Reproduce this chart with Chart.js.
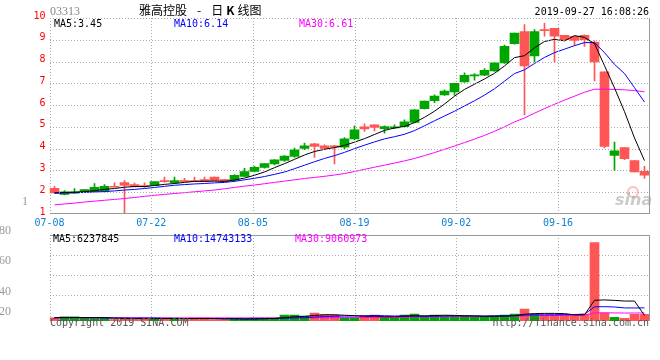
<!DOCTYPE html>
<html><head><meta charset="utf-8">
<script src="https://cdn.jsdelivr.net/npm/chart.js@4.4.1/dist/chart.umd.min.js"></script>
<style>
html,body{margin:0;padding:0;background:#fff;width:660px;height:360px;overflow:hidden;}
#wrap{position:relative;width:660px;height:360px;overflow:hidden;}
.cv{position:absolute;left:0;top:0;width:660px;height:360px;}
.t{position:absolute;white-space:pre;font-family:"DejaVu Sans Mono",monospace;font-size:10px;line-height:12px;color:#000;}
.g{position:absolute;white-space:pre;font-family:"Liberation Serif",serif;color:#999;line-height:14px;}
.cjk{font-family:"Noto Sans CJK SC",sans-serif;font-size:12px;line-height:14px;}
</style></head><body>
<div id="wrap">
<div class="cv"><canvas id="vol" width="660" height="360"></canvas></div>
<div class="cv" id="priceBox"><canvas id="price" width="660" height="360"></canvas></div>

<div class="g" style="left:50px;top:4px;font-size:12px;color:#888;">03313</div>
<div class="t cjk" style="left:139px;top:3px;">雅高控股<span style="padding-left:10px;">-</span><span style="padding-left:10px;">日</span><b style="padding:0 3px;">K</b>线图</div>
<div class="t" style="right:11px;top:6px;">2019-09-27 16:08:26</div>

<div class="t" style="left:54px;top:18px;color:#000;">MA5:3.45</div>
<div class="t" style="left:174px;top:18px;color:#0000ff;">MA10:6.14</div>
<div class="t" style="left:299px;top:18px;color:#ff00ff;">MA30:6.61</div>

<div class="t" style="left:53px;top:233px;color:#000;">MA5:6237845</div>
<div class="t" style="left:174px;top:233px;color:#0000ff;">MA10:14743133</div>
<div class="t" style="left:295px;top:233px;color:#ff00ff;">MA30:9060973</div>

<div class="g" style="left:22px;top:194px;font-size:12px;">1</div>
<div class="g" style="left:-10px;width:21px;text-align:right;top:223px;font-size:12px;">80</div>
<div class="g" style="left:-10px;width:21px;text-align:right;top:253px;font-size:12px;">60</div>
<div class="g" style="left:-10px;width:21px;text-align:right;top:284px;font-size:12px;">40</div>
<div class="g" style="left:-10px;width:21px;text-align:right;top:304px;font-size:12px;">20</div>

<div style="position:absolute;left:627px;top:186px;width:8px;height:8px;border:2px solid rgba(255,110,110,0.45);border-radius:50%;"></div>
<div style="position:absolute;left:615px;top:191px;font-family:'DejaVu Sans',sans-serif;font-weight:bold;font-style:italic;font-size:16px;line-height:18px;color:rgba(160,160,160,0.55);">sina</div>

<div class="t" style="left:50px;top:317px;color:#555;">Copyright 2019 SINA.COM</div>
<div class="t" style="right:11px;top:317px;color:#555;">http://finance.sina.com.cn</div>
</div>

<script>
// ---------- data ----------
const dates = [
 '07-08','07-09','07-10','07-11','07-12','07-15','07-16','07-17','07-18','07-19',
 '07-22','07-23','07-24','07-25','07-26','07-29','07-30','07-31','08-01','08-02',
 '08-05','08-06','08-07','08-08','08-09','08-12','08-13','08-14','08-15','08-16',
 '08-19','08-20','08-21','08-22','08-23','08-26','08-27','08-28','08-29','08-30',
 '09-02','09-03','09-04','09-05','09-06','09-09','09-10','09-11','09-12','09-13',
 '09-16','09-17','09-18','09-19','09-20','09-23','09-24','09-25','09-26','09-27'];
const tickIndex = [0,10,20,30,40,50];
const priceTicks = [1,2,3,4,5,6,7,8,9,10];

const opens = [2.18,1.90,1.96,2.03,2.03,2.05,2.26,2.44,2.35,2.31,
 2.31,2.53,2.44,2.53,2.53,2.58,2.69,2.58,2.55,2.73,
 2.95,3.14,3.30,3.46,3.64,4.01,4.22,4.13,4.13,4.07,
 4.45,5.00,5.09,4.92,4.95,5.01,5.20,5.84,6.20,6.47,
 6.61,7.07,7.34,7.37,7.57,7.94,8.82,9.38,8.26,9.44,
 9.53,9.20,9.16,9.20,8.89,7.53,3.69,4.05,3.45,2.96];
const highs = [2.27,2.08,2.17,2.13,2.40,2.35,2.43,2.53,2.43,2.43,
 2.49,2.69,2.69,2.64,2.69,2.69,2.69,2.58,2.81,3.10,
 3.19,3.31,3.50,3.68,4.03,4.26,4.24,4.18,4.15,4.51,
 5.05,5.14,5.10,5.05,5.09,5.32,5.80,6.19,6.47,6.70,
 7.00,7.48,7.45,7.68,7.94,8.76,9.31,9.70,9.47,9.76,
 9.53,9.20,9.18,9.23,8.95,7.53,4.30,4.05,3.45,3.19];
const lows = [1.95,1.88,1.95,2.02,2.02,2.00,2.24,1.05,2.24,2.22,
 2.30,2.45,2.42,2.48,2.48,2.48,2.53,2.48,2.50,2.72,
 2.93,3.10,3.25,3.42,3.60,3.95,3.60,3.95,3.30,3.98,
 4.41,4.79,4.82,4.71,4.92,5.00,5.18,5.82,6.11,6.45,
 6.46,7.05,7.15,7.35,7.55,7.92,8.80,5.55,7.98,9.16,
 7.98,9.00,8.74,8.70,7.11,4.03,3.00,3.49,2.93,2.63];
const closes = [1.97,2.02,2.02,2.12,2.23,2.27,2.23,2.31,2.25,2.25,
 2.49,2.49,2.53,2.49,2.49,2.49,2.53,2.49,2.78,2.95,
 3.14,3.31,3.49,3.66,3.95,4.13,4.10,4.01,4.07,4.45,
 4.86,4.91,4.97,5.01,5.00,5.23,5.78,6.19,6.42,6.64,
 7.00,7.37,7.37,7.60,7.94,8.70,9.31,7.80,9.38,9.42,
 9.17,9.00,8.97,9.00,7.98,4.10,3.90,3.54,2.93,2.78];

const ma5 = [1.98,1.99,2.00,2.03,2.07,2.13,2.17,2.23,2.26,2.26,
 2.31,2.36,2.40,2.45,2.50,2.50,2.51,2.50,2.56,2.65,
 2.78,2.93,3.13,3.31,3.51,3.71,3.87,3.97,4.05,4.15,
 4.30,4.46,4.65,4.84,4.95,5.02,5.20,5.44,5.72,6.05,
 6.41,6.72,6.96,7.20,7.46,7.80,8.18,8.27,8.63,8.92,
 9.02,8.95,9.19,9.11,8.82,7.81,6.79,5.70,4.49,3.45];
const ma10 = [1.95,1.96,1.98,1.99,2.01,2.03,2.06,2.10,2.13,2.17,
 2.22,2.27,2.32,2.35,2.38,2.40,2.43,2.45,2.50,2.57,
 2.64,2.72,2.82,2.93,3.08,3.24,3.40,3.55,3.68,3.83,
 4.00,4.16,4.31,4.45,4.55,4.66,4.83,5.05,5.28,5.50,
 5.72,5.96,6.20,6.46,6.75,7.10,7.45,7.62,7.91,8.19,
 8.41,8.57,8.73,8.87,8.87,8.41,7.87,7.45,6.80,6.14];
const ma30 = [1.42,1.46,1.50,1.55,1.59,1.63,1.67,1.71,1.76,1.81,
 1.86,1.90,1.94,1.98,2.02,2.06,2.10,2.16,2.22,2.28,
 2.33,2.39,2.45,2.51,2.57,2.63,2.68,2.73,2.79,2.86,
 2.95,3.05,3.15,3.24,3.34,3.44,3.55,3.68,3.82,3.97,
 4.12,4.28,4.44,4.61,4.80,5.00,5.23,5.41,5.63,5.84,
 6.04,6.23,6.41,6.59,6.73,6.73,6.72,6.70,6.67,6.61];

// volume, millions of shares
const volumes = [3.7,4.8,4.8,3.4,2.6,3.4,1.7,3.4,1.7,3.4,
 3.4,1.9,3.4,1.7,3.4,3.4,1.7,1.7,2.2,2.2,
 3.4,3.4,3.4,6.7,6.7,5.6,9.0,7.1,6.7,3.7,
 3.7,5.6,6.7,4.5,3.4,6.7,7.9,5.6,6.7,5.6,
 5.6,5.6,5.1,4.5,5.6,6.7,7.9,13.5,7.9,6.7,
 6.7,6.7,6.7,7.9,88.2,8.8,4.2,3.0,7.6,7.6];
const vma5 = [3.8,3.8,3.9,3.9,3.86,3.8,3.18,2.9,2.56,2.72,
 2.72,2.76,2.76,2.76,2.76,2.76,2.72,2.38,2.48,2.24,
 2.24,2.58,2.92,3.82,4.72,5.16,6.28,7.02,7.02,6.42,
 6.04,5.36,5.28,4.84,4.78,5.38,5.84,5.62,6.06,6.5,
 6.28,5.82,5.72,5.28,5.28,5.5,5.96,7.64,8.32,8.54,
 8.54,8.3,6.94,6.94,23.24,23.66,23.16,22.42,22.36,6.24];
const vma10 = [3.7,3.8,3.8,3.7,3.6,3.5,3.4,3.35,3.3,3.29,
 3.26,2.97,2.83,2.66,2.74,2.74,2.74,2.57,2.62,2.5,
 2.5,2.65,2.65,3.15,3.48,3.7,4.43,4.97,5.42,5.57,
 5.6,5.82,6.15,5.93,5.6,5.71,5.6,5.45,5.45,5.64,
 5.83,5.83,5.67,5.67,5.89,5.89,5.89,6.68,6.8,6.91,
 7.02,7.13,7.29,7.63,15.89,16.1,15.73,14.68,14.65,14.74];
const vma30 = [3.5,3.5,3.5,3.5,3.5,3.5,3.5,3.5,3.5,3.5,
 3.5,3.5,3.5,3.5,3.5,3.5,3.5,3.5,3.5,3.5,
 3.5,3.5,3.5,3.6,3.6,3.6,3.7,3.7,3.8,3.79,
 3.79,3.81,3.88,3.91,3.94,4.05,4.26,4.33,4.50,4.57,
 4.64,4.77,4.82,4.92,4.99,5.10,5.31,5.70,5.89,6.04,
 6.15,6.26,6.37,6.41,9.13,9.23,9.07,8.94,8.97,9.06];

// ---------- styling ----------
const UP = '#00a600', DOWN = '#ff5555';
const candleColors = closes.map((c, i) => c > opens[i] ? UP : DOWN);
const MONO = {family: 'DejaVu Sans Mono', size: 10};
const GRID = '#aaaaaa', FRAME = '#999999';
const volMax = 96.6;
const volGrid = [1, 2, 3].map(k => volMax * (1 - k * 20 / 86));

// dotted grid (1 px on, 2 px off) + solid frame for the volume panel
function drawPanel(chart, yValues, solidTop) {
  const ctx = chart.ctx, a = chart.chartArea, sc = chart.scales;
  const L = Math.round(a.left), R = Math.floor(a.right - 0.5);
  const T = Math.round(a.top), B = Math.floor(a.bottom - 0.5);
  ctx.save();
  ctx.fillStyle = GRID;
  for (const v of yValues) {
    const y = Math.round(sc.y.getPixelForValue(v));
    if (y >= B) continue;
    for (let x = L; x < R; x += 3) ctx.fillRect(x, y, 1, 1);
  }
  for (const v of tickIndex) {
    const x = Math.round(sc.xg.getPixelForValue(v));
    for (let y = T; y < B; y += 3) ctx.fillRect(x, y, 1, 1);
  }
  ctx.fillStyle = FRAME;
  ctx.fillRect(R, T, 1, B - T + 1);
  ctx.fillRect(L, B, R - L + 1, 1);
  if (solidTop) ctx.fillRect(L, T, R - L + 1, 1);
  ctx.restore();
}

const gridPlugin = {
  id: 'dotgrid',
  beforeDatasetsDraw(chart) {
    if (chart.canvas.id === 'vol') drawPanel(chart, volGrid, true);
  }
};

function lineDs(data, color) {
  return {type: 'line', data, borderColor: color, borderWidth: 1, pointRadius: 0,
          tension: 0, fill: false, order: 0, xAxisID: 'x', yAxisID: 'y'};
}
function gridAxis(showLabels, h) {
  return {
    type: 'linear', position: 'bottom', min: 0, max: dates.length - 1,
    offset: false, bounds: 'data',
    afterBuildTicks: s => { s.ticks = tickIndex.map(v => ({value: v})); },
    afterFit: s => { s.height = h; },
    grid: {display: false, offset: false, drawTicks: false},
    border: {display: false},
    ticks: {display: showLabels, color: '#1080d0', font: MONO, padding: 3,
            maxRotation: 0, autoSkip: false, callback: v => dates[v]}
  };
}

// ---------- price chart ----------
const priceChart = new Chart(document.getElementById('price'), {
  type: 'bar',
  data: {
    labels: dates,
    datasets: [
      lineDs(ma5, '#000000'),
      lineDs(ma10, '#0000ff'),
      lineDs(ma30, '#ff00ff'),
      {type: 'bar', data: lows.map((l, i) => [l, highs[i]]), backgroundColor: candleColors,
       barThickness: 1, grouped: false, borderWidth: 0, order: 2, xAxisID: 'x', yAxisID: 'y'},
      {type: 'bar', data: opens.map((o, i) => [o, closes[i]]), backgroundColor: candleColors,
       barThickness: 9, grouped: false, borderWidth: 0, minBarLength: 1, order: 1, xAxisID: 'x', yAxisID: 'y'}
    ]
  },
  options: {
    responsive: false, animation: false, events: [],
    layout: {padding: {top: 18, right: 10.5, bottom: 126, left: 0}},
    plugins: {legend: {display: false}, tooltip: {enabled: false}},
    scales: {
      x: {type: 'category', display: false, offset: true},
      xg: gridAxis(true, 20),
      y: {
        type: 'linear', min: priceTicks[0], max: priceTicks[priceTicks.length - 1],
        afterFit: s => { s.width = 49.5; },
        afterBuildTicks: s => { s.ticks = priceTicks.map(v => ({value: v})); },
        ticks: {color: '#ff0000', font: MONO, padding: 4, labelOffset: -2},
        grid: {display: false, drawTicks: false},
        border: {display: false}
      }
    }
  },
  plugins: [gridPlugin]
});

// ---------- volume chart ----------
new Chart(document.getElementById('vol'), {
  type: 'bar',
  data: {
    labels: dates,
    datasets: [
      lineDs(vma5, '#000000'),
      lineDs(vma10, '#0000ff'),
      lineDs(vma30, '#ff00ff'),
      {type: 'bar', data: volumes, backgroundColor: candleColors, barThickness: 9,
       borderWidth: 0, order: 1, xAxisID: 'x', yAxisID: 'y'}
    ]
  },
  options: {
    responsive: false, animation: false, events: [],
    layout: {padding: {top: 235, right: 10.5, bottom: 39, left: 0}},
    plugins: {legend: {display: false}, tooltip: {enabled: false}},
    scales: {
      x: {type: 'category', display: false, offset: true},
      xg: gridAxis(false, 0),
      y: {
        type: 'linear', min: 0, max: volMax,
        afterFit: s => { s.width = 49.5; },
        ticks: {display: false},
        grid: {display: false, drawTicks: false},
        border: {display: false}
      }
    }
  },
  plugins: [gridPlugin]
});

// ---------- price panel grid: separate overlay canvas, dots skip the candle marks ----------
(function priceGridOverlay() {
  const wrap = document.getElementById('wrap');
  const ov = document.createElement('canvas');
  ov.width = 660; ov.height = 360;
  ov.style.cssText = 'position:absolute;left:0;top:0;width:660px;height:360px;pointer-events:none;';
  const box = document.getElementById('priceBox');
  wrap.insertBefore(ov, box.nextSibling);
  const ctx = ov.getContext('2d');

  const ok = n => typeof n === 'number' && isFinite(n);
  const a = priceChart.chartArea || {};
  const sc = priceChart.scales || {};
  const left = ok(a.left) ? a.left : 49.5, right = ok(a.right) ? a.right : 649.5;
  const top = ok(a.top) ? a.top : 18, bottom = ok(a.bottom) ? a.bottom : 214;
  const pMin = priceTicks[0], pMax = priceTicks[priceTicks.length - 1];
  const yPix = v => { const p = sc.y ? sc.y.getPixelForValue(v) : NaN; return ok(p) ? p : top + (pMax - v) * (bottom - top) / (pMax - pMin); };
  const xPix = v => { const p = sc.xg ? sc.xg.getPixelForValue(v) : NaN; return ok(p) ? p : left + v * (right - left) / (dates.length - 1); };
  const L = Math.round(left), R = Math.floor(right - 0.5), T = Math.round(top), B = Math.floor(bottom - 0.5);

  // candle wick/body rectangles from the chart's own bar elements
  const rects = [];
  [3, 4].forEach(di => {
    const meta = priceChart.getDatasetMeta(di);
    (meta.data || []).forEach(el => {
      if ([el.x, el.y, el.base, el.width].every(ok)) {
        rects.push({x0: el.x - el.width / 2, x1: el.x + el.width / 2,
                    y0: Math.min(el.y, el.base), y1: Math.max(el.y, el.base)});
      }
    });
  });
  const covered = (x, y) => rects.some(r => x + 1 > r.x0 + 0.01 && x < r.x1 - 0.01 && y + 1 > r.y0 + 0.01 && y < r.y1 - 0.01);

  ctx.fillStyle = GRID;
  for (const v of priceTicks) {
    const y = Math.round(yPix(v));
    if (y >= B) continue;
    for (let x = L; x < R; x += 3) if (!covered(x, y)) ctx.fillRect(x, y, 1, 1);
  }
  for (const v of tickIndex) {
    const x = Math.round(xPix(v));
    for (let y = T; y < B; y += 3) if (!covered(x, y)) ctx.fillRect(x, y, 1, 1);
  }
  ctx.fillStyle = FRAME;
  ctx.fillRect(R, T, 1, B - T + 1);
  ctx.fillRect(L, B, R - L + 1, 1);
})();
</script>
</body></html>
